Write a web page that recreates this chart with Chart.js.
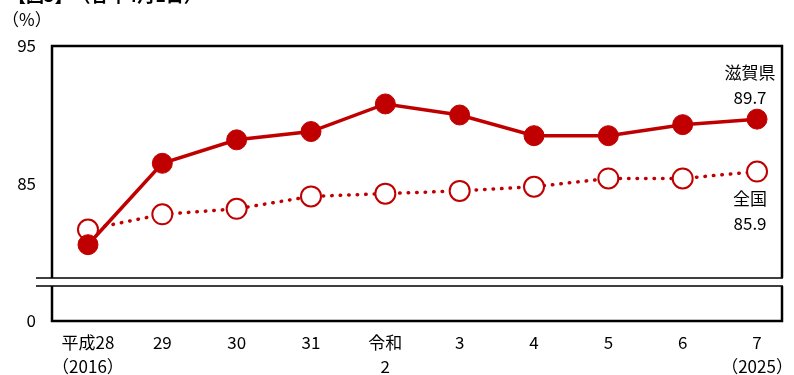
<!DOCTYPE html>
<html>
<head>
<meta charset="utf-8">
<script src="https://cdn.jsdelivr.net/npm/chart.js@4"></script>
<style>
  html, body { margin: 0; padding: 0; background: #fff; }
  #wrap { width: 794px; height: 375px; position: relative; }
</style>
</head>
<body>
<div id="wrap"><canvas id="myChart" width="794" height="375"></canvas></div>
<script>
const categories = [['平成28', '（2016）'], '29', '30', '31', ['令和', '2'], '3', '4', '5', '6', ['7', '（2025）']];
const shiga = [80.6, 86.5, 88.2, 88.8, 90.8, 90.0, 88.5, 88.5, 89.3, 89.7];
const zenkoku = [81.7, 82.8, 83.2, 84.1, 84.3, 84.5, 84.8, 85.4, 85.4, 85.9];
const seriesNames = ['滋賀県', '全国'];
const lastLabels = ['89.7', '85.9'];
const yTicks = [85, 95];

const RED = '#c00000';
const FONT = '"Noto Sans CJK JP", "Noto Sans", sans-serif';
const yMin = 75.07, yMax = 95, breakTop = 78.19, breakBottom = 77.6;

// frame, axis break, unit and series labels
const decor = {
    id: 'decor',
    beforeDatasetsDraw(chart) {
        const { ctx, chartArea: a, scales: { x, y } } = chart;
        ctx.save();
        ctx.strokeStyle = '#000';
        ctx.lineWidth = 2.5;
        ctx.strokeRect(a.left, a.top, a.right - a.left, a.bottom - a.top);
        const y1 = y.getPixelForValue(breakTop), y2 = y.getPixelForValue(breakBottom);
        ctx.fillStyle = '#fff';
        ctx.fillRect(a.left - 20, y1, a.right - a.left + 22, y2 - y1);
        ctx.lineWidth = 1.5;
        ctx.beginPath();
        ctx.moveTo(a.left - 16, y1); ctx.lineTo(a.right + 1, y1);
        ctx.moveTo(a.left - 16, y2); ctx.lineTo(a.right + 1, y2);
        ctx.stroke();
        ctx.restore();
    },
    afterDraw(chart) {
        const { ctx, scales: { x, y } } = chart;
        ctx.save();
        ctx.fillStyle = '#000';
        ctx.font = 'bold 18px ' + FONT;
        ctx.textBaseline = 'alphabetic';
        ctx.textAlign = 'left';
        ctx.fillText('【図5】　（各年4月1日）', 8, 2);
        ctx.font = '17px ' + FONT;
        ctx.textBaseline = 'middle';
        ctx.fillText('（%）', 2, 20);
        ctx.textAlign = 'center';
        const last = shiga.length - 1;
        const px = x.getPixelForValue(last) - 7;
        const sy = y.getPixelForValue(shiga[last]);
        ctx.fillText(seriesNames[0], px, sy - 47);
        ctx.fillText(lastLabels[0], px, sy - 22);
        const zy = y.getPixelForValue(zenkoku[last]);
        ctx.fillText(seriesNames[1], px, zy + 27);
        ctx.fillText(lastLabels[1], px, zy + 52);
        ctx.restore();
    }
};

new Chart(document.getElementById('myChart'), {
    type: 'line',
    data: {
        datasets: [
            {
                label: seriesNames[0],
                data: shiga.map((v, i) => ({ x: i, y: v })),
                borderColor: RED, backgroundColor: RED,
                borderWidth: 3.5,
                pointRadius: 10, pointBackgroundColor: RED, pointBorderColor: RED, pointBorderWidth: 1,
                tension: 0, order: 1
            },
            {
                label: seriesNames[1],
                data: zenkoku.map((v, i) => ({ x: i, y: v })),
                borderColor: RED, backgroundColor: '#fff',
                borderWidth: 3.5, borderDash: [0.5, 8], borderCapStyle: 'round',
                pointRadius: 10, pointBackgroundColor: '#fff', pointBorderColor: RED, pointBorderWidth: 2,
                tension: 0, order: 2
            }
        ]
    },
    options: {
        responsive: false,
        animation: false,
        events: [],
        layout: { padding: { top: 46, right: 11, left: 0, bottom: 0 } },
        plugins: { legend: { display: false }, tooltip: { enabled: false }, title: { display: false } },
        scales: {
            x: {
                type: 'linear', min: -0.484, max: 9.336,
                grid: { display: false, drawTicks: false }, border: { display: false },
                afterBuildTicks: s => { s.ticks = categories.map((c, i) => ({ value: i })); },
                afterFit: s => { s.height = 54; s.paddingLeft = 0; s.paddingRight = 0; },
                ticks: {
                    autoSkip: false, maxRotation: 0, padding: 9, color: '#000',
                    font: { family: FONT, size: 17, lineHeight: 1.45 },
                    callback: v => categories[v]
                }
            },
            y: {
                min: yMin, max: yMax,
                grid: { display: false, drawTicks: false }, border: { display: false },
                afterBuildTicks: s => { s.ticks = [{ value: yMin }].concat(yTicks.map(v => ({ value: v }))); },
                afterFit: s => { s.width = 52; s.paddingTop = 0; s.paddingBottom = 0; },
                ticks: {
                    padding: 16, color: '#000',
                    font: { family: FONT, size: 17 },
                    callback: v => v === yMin ? '0' : String(v)
                }
            }
        }
    },
    plugins: [decor]
});
</script>
</body>
</html>
